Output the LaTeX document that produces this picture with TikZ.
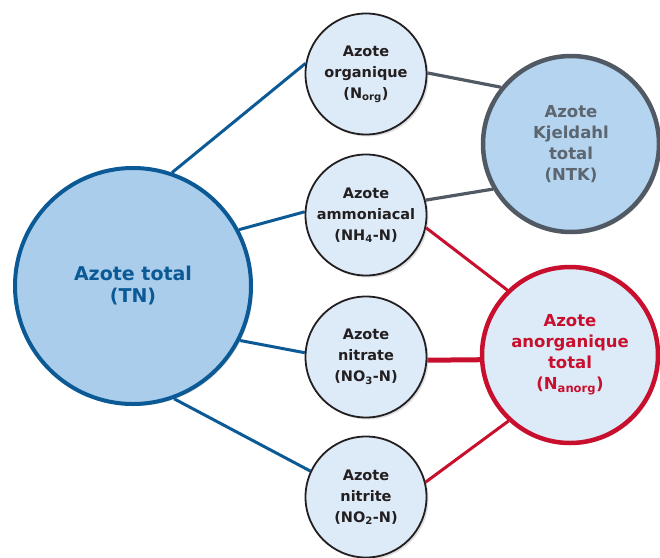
\documentclass[tikz,border=0pt]{standalone}
\usepackage{fontspec}
\setmainfont{DejaVu Sans}
\usetikzlibrary{shadows,backgrounds}
\definecolor{tnblue}{HTML}{0B5A96}
\definecolor{tnfill}{HTML}{AACDEB}
\definecolor{palefill}{HTML}{DDEAF7}
\definecolor{ntkgray}{HTML}{515A64}
\definecolor{ntktext}{HTML}{5C6670}
\definecolor{ntkfill}{HTML}{B5D4EF}
\definecolor{anred}{HTML}{C8102E}
\definecolor{inkblack}{HTML}{231F20}

\begin{document}
\begin{tikzpicture}[x=1pt,y=-1pt,
  every node/.style={circle,inner sep=0pt,align=center,
    drop shadow={shadow xshift=2pt,shadow yshift=-2pt,opacity=0.25}},
  smallring/.style={draw=inkblack,line width=1.8pt,fill=palefill,
    minimum size=121pt,text=inkblack,
    font=\fontsize{14.5}{21}\selectfont\bfseries},
  bigring/.style={line width=4.5pt,minimum size=176pt,
    font=\fontsize{16.5}{21}\selectfont\bfseries},
  blueline/.style={tnblue,line width=3pt},
  grayline/.style={ntkgray,line width=3.2pt},
  redline/.style={anred,line width=3pt}]
\useasboundingbox (0,0) rectangle (660,557);

\node[draw=tnblue,line width=4pt,fill=tnfill,minimum size=236pt,text=tnblue,
  font=\fontsize{19}{22}\selectfont\bfseries] (tn) at (133,286)
  {Azote total\\(TN)};

\node[smallring] (norg) at (366,74) {Azote\\organique\\(N\textsubscript{org})};
\node[smallring] (nh4) at (366,215) {Azote\\ammoniacal\\(NH\textsubscript{4}-N)};
\node[smallring] (no3) at (366,357) {Azote\\nitrate\\(NO\textsubscript{3}-N)};
\node[smallring] (no2) at (366,497) {Azote\\nitrite\\(NO\textsubscript{2}-N)};

\node[bigring,draw=ntkgray,fill=ntkfill,text=ntktext] (ntk) at (571,144)
  {Azote\\Kjeldahl\\total\\(NTK)};
\node[bigring,draw=anred,fill=palefill,text=anred] (nanorg) at (570,355)
  {Azote\\anorganique\\total\\(N\textsubscript{anorg})};

\begin{scope}[on background layer]
  \draw[blueline] (tn.71) -- (norg.170);
  \draw[blueline] (tn.28) -- (nh4.177);
  \draw[blueline] (tn.-27) -- (no3.176);
  \draw[blueline] (tn.-70) -- (no2.155);
  \draw[grayline] (norg.1) -- (ntk.141);
  \draw[grayline] (nh4.14) -- (ntk.210);
  \draw[redline] (nh4.-12) -- (nanorg.134);
  \draw[redline,line width=5pt] (no3.-3) -- (nanorg.183);
  \draw[redline] (no2.14) -- (nanorg.227);
\end{scope}
\end{tikzpicture}
\end{document}
